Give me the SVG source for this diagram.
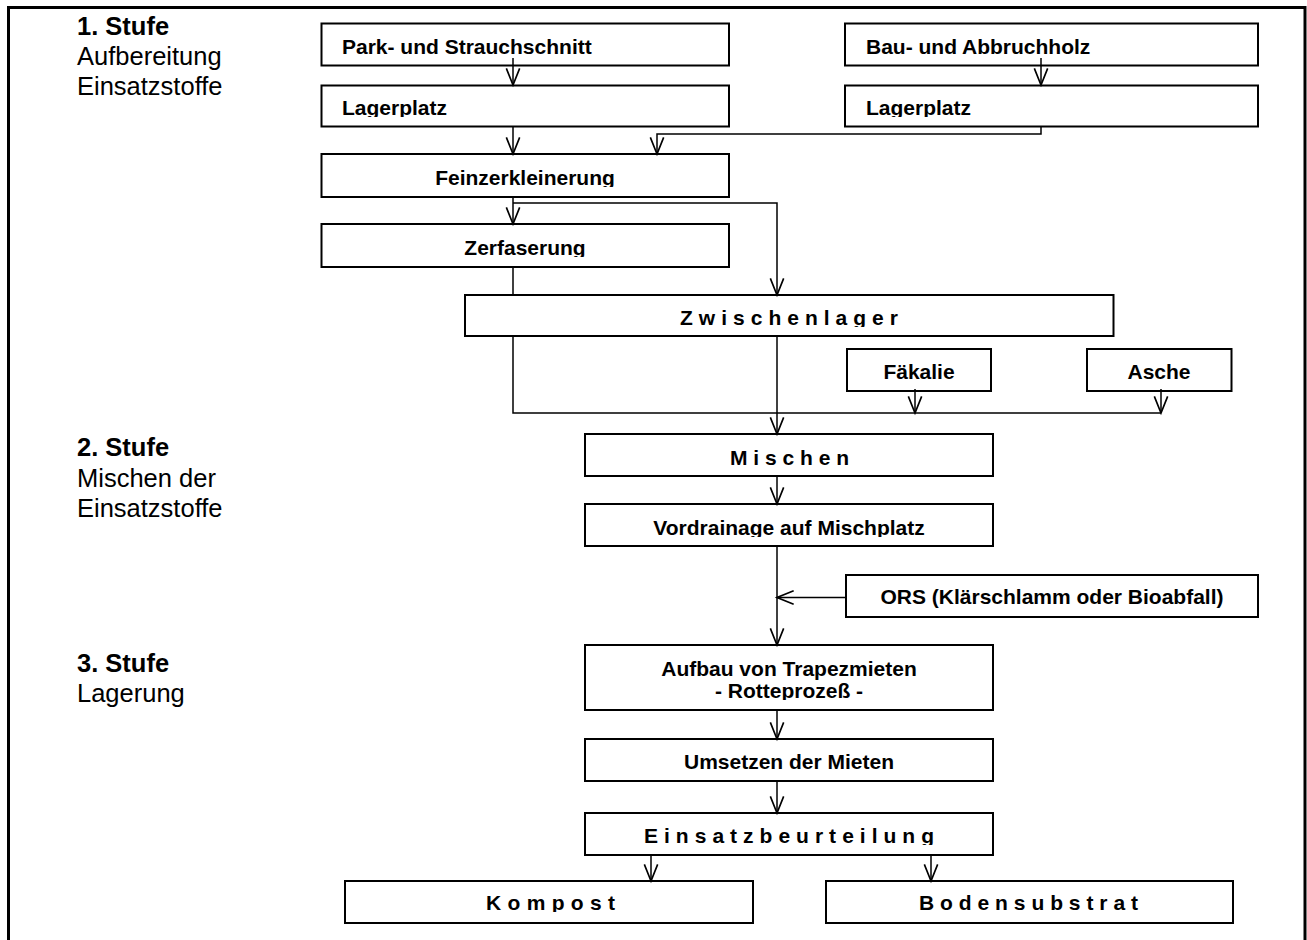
<svg xmlns="http://www.w3.org/2000/svg" width="1307" height="940" viewBox="0 0 1307 940">
<style>
.frame{fill:none;stroke:#000;stroke-width:3}
.box{fill:#fff;stroke:#000;stroke-width:2}
.t{font-family:"Liberation Sans",Arial,sans-serif;font-size:21px;font-weight:bold;fill:#000}
.c{text-anchor:middle}
.lb{font-family:"Liberation Sans",Arial,sans-serif;font-size:25.5px;font-weight:bold;fill:#000}
.lr{font-family:"Liberation Sans",Arial,sans-serif;font-size:25.5px;fill:#000}
.conn{fill:none;stroke:#000;stroke-width:1.5}
</style>
<defs>
<marker id="arr" markerUnits="userSpaceOnUse" markerWidth="20" markerHeight="20" viewBox="-16 -8 18 16" refX="0" refY="0" orient="auto" overflow="visible">
<path d="M-15,-6 L0,0 L-15,6" fill="none" stroke="#000" stroke-width="1.5"/>
</marker>
<clipPath id="cl1"><rect x="330" y="90" width="390" height="27"/></clipPath>
<clipPath id="cl2"><rect x="850" y="90" width="400" height="27"/></clipPath>
<clipPath id="cl3"><rect x="330" y="160" width="390" height="27"/></clipPath>
<clipPath id="cl4"><rect x="330" y="230" width="390" height="27"/></clipPath>
<clipPath id="cl5"><rect x="470" y="300" width="640" height="27"/></clipPath>
<clipPath id="cl6"><rect x="590" y="510" width="400" height="27"/></clipPath>
<clipPath id="cl7"><rect x="590" y="680" width="400" height="20"/></clipPath>
<clipPath id="cl8"><rect x="590" y="818" width="400" height="27"/></clipPath>
<clipPath id="cl9"><rect x="350" y="886" width="400" height="26"/></clipPath>
<clipPath id="cl10"><rect x="830" y="886" width="400" height="26"/></clipPath>
</defs>
<rect class="frame" x="8.5" y="7.5" width="1296.5" height="945"/>
<g id="labels">
<text class="lb" x="77" y="35">1. Stufe</text>
<text class="lr" x="77" y="65">Aufbereitung</text>
<text class="lr" x="77" y="95">Einsatzstoffe</text>
<text class="lb" x="77" y="456">2. Stufe</text>
<text class="lr" x="77" y="487">Mischen der</text>
<text class="lr" x="77" y="517">Einsatzstoffe</text>
<text class="lb" x="77" y="672">3. Stufe</text>
<text class="lr" x="77" y="702">Lagerung</text>
</g>
<g id="park"><rect class="box" x="321.5" y="23.5" width="407.5" height="42"/><text class="t" x="342" y="54">Park- und Strauchschnitt</text></g>
<g id="lager1"><rect class="box" x="321.5" y="85.5" width="407.5" height="41"/><text class="t" x="342" y="115" clip-path="url(#cl1)">Lagerplatz</text></g>
<g id="bau"><rect class="box" x="845" y="23.5" width="413" height="42"/><text class="t" x="866" y="54">Bau- und Abbruchholz</text></g>
<g id="lager2"><rect class="box" x="845" y="85.5" width="413" height="41"/><text class="t" x="866" y="115" clip-path="url(#cl2)">Lagerplatz</text></g>
<g id="fein"><rect class="box" x="321.5" y="154" width="407.5" height="43"/><text class="t c" x="525" y="185" clip-path="url(#cl3)">Feinzerkleinerung</text></g>
<g id="zerf"><rect class="box" x="321.5" y="224" width="407.5" height="43"/><text class="t c" x="525" y="255" clip-path="url(#cl4)">Zerfaserung</text></g>
<g id="zwischen"><rect class="box" x="465" y="295" width="648.5" height="41"/><text class="t" x="680" y="325" textLength="218" lengthAdjust="spacing" clip-path="url(#cl5)">Zwischenlager</text></g>
<g id="faekalie"><rect class="box" x="847" y="349" width="144" height="42"/><text class="t c" x="919" y="379">Fäkalie</text></g>
<g id="asche"><rect class="box" x="1087" y="349" width="144.5" height="42"/><text class="t c" x="1159" y="379">Asche</text></g>
<g id="mischen"><rect class="box" x="585" y="434" width="408" height="42"/><text class="t" x="730" y="465" textLength="119" lengthAdjust="spacing">Mischen</text></g>
<g id="vordrainage"><rect class="box" x="585" y="504" width="408" height="42"/><text class="t c" x="789" y="535" clip-path="url(#cl6)">Vordrainage auf Mischplatz</text></g>
<g id="ors"><rect class="box" x="846" y="575" width="412" height="42"/><text class="t c" x="1052" y="604">ORS (Klärschlamm oder Bioabfall)</text></g>
<g id="aufbau"><rect class="box" x="585" y="645" width="408" height="65"/><text class="t c" x="789" y="676">Aufbau von Trapezmieten</text><text class="t c" x="789" y="698" clip-path="url(#cl7)">- Rotteprozeß -</text></g>
<g id="umsetzen"><rect class="box" x="585" y="739" width="408" height="42"/><text class="t c" x="789" y="769">Umsetzen der Mieten</text></g>
<g id="einsatz"><rect class="box" x="585" y="813" width="408" height="42"/><text class="t" x="644" y="843" textLength="290" lengthAdjust="spacing" clip-path="url(#cl8)">Einsatzbeurteilung</text></g>
<g id="kompost"><rect class="box" x="345" y="881" width="408" height="42"/><text class="t" x="486" y="910" textLength="129" lengthAdjust="spacing" clip-path="url(#cl9)">Kompost</text></g>
<g id="boden"><rect class="box" x="826" y="881" width="407" height="42"/><text class="t" x="919" y="910" textLength="219" lengthAdjust="spacing" clip-path="url(#cl10)">Bodensubstrat</text></g>
<g id="connectors">
<path class="conn" d="M513,58 V85" marker-end="url(#arr)"/>
<path class="conn" d="M1041,58 V85" marker-end="url(#arr)"/>
<path class="conn" d="M513,126.5 V154" marker-end="url(#arr)"/>
<path class="conn" d="M1041,126.5 V134 H657 V154" marker-end="url(#arr)"/>
<path class="conn" d="M513,197 V224" marker-end="url(#arr)"/>
<path class="conn" d="M513,203 H777 V295" marker-end="url(#arr)"/>
<path class="conn" d="M513,267 V295"/>
<path class="conn" d="M513,336 V413 H1161"/>
<path class="conn" d="M777,336 V434" marker-end="url(#arr)"/>
<path class="conn" d="M915,389 V413" marker-end="url(#arr)"/>
<path class="conn" d="M1161,389 V413" marker-end="url(#arr)"/>
<path class="conn" d="M777,476 V504" marker-end="url(#arr)"/>
<path class="conn" d="M777,546 V645" marker-end="url(#arr)"/>
<path class="conn" d="M846,597.5 H777" marker-end="url(#arr)"/>
<path class="conn" d="M777,710 V739" marker-end="url(#arr)"/>
<path class="conn" d="M777,781 V813" marker-end="url(#arr)"/>
<path class="conn" d="M651,855 V881" marker-end="url(#arr)"/>
<path class="conn" d="M931,855 V881" marker-end="url(#arr)"/>
</g>
</svg>
